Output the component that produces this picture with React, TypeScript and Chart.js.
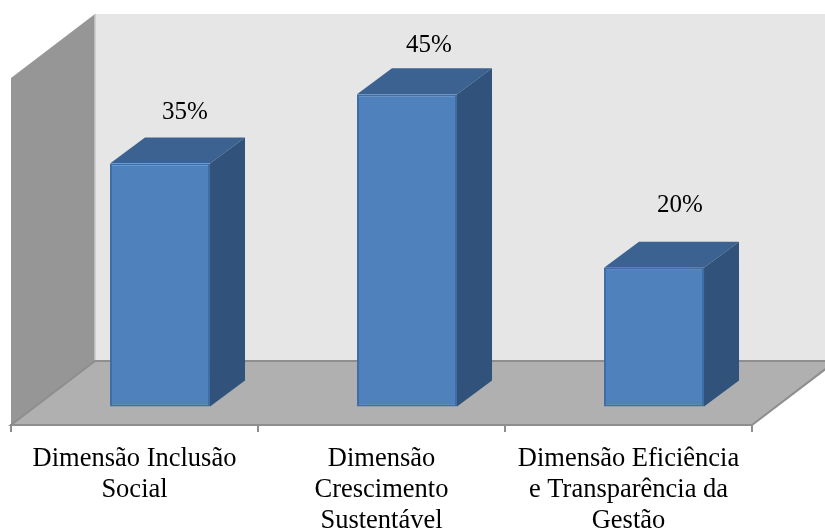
import React, { useEffect, useRef } from "react";
import { Chart, registerables } from "chart.js";

Chart.register(...registerables);

const categories = [
  ["Dimensão Inclusão", "Social"],
  ["Dimensão", "Crescimento", "Sustentável"],
  ["Dimensão Eficiência", "e Transparência da", "Gestão"],
];
const shares = [35, 45, 20];

// Oblique projection of the 3D box: full depth of the floor, where the bars sit, and bar thickness.
const FLOOR_DEPTH = { x: 84, y: -64 };
const BAR_OFFSET = { x: 25.5, y: -18.5 };
const BAR_DEPTH = { x: 35, y: -26 };
const LABEL_LIFT = [51.5, 48.5, 62.5];
const LABEL_SHIFT = [26, 23, 27];

const FONT = '"Liberation Serif", "Times New Roman", serif';

function poly(ctx: CanvasRenderingContext2D, pts: number[][], fill: string, stroke?: string, lw = 1) {
  ctx.beginPath();
  pts.forEach(([x, y], i) => (i ? ctx.lineTo(x, y) : ctx.moveTo(x, y)));
  ctx.closePath();
  ctx.fillStyle = fill;
  ctx.fill();
  if (stroke) {
    ctx.strokeStyle = stroke;
    ctx.lineWidth = lw;
    ctx.stroke();
  }
}

// Back wall, side wall and floor, extruded from the front plane of the plot area.
const roomPlugin = {
  id: "room",
  beforeDraw(chart: any) {
    const { ctx, chartArea: a } = chart;
    const dx = FLOOR_DEPTH.x;
    const dy = FLOOR_DEPTH.y;
    ctx.save();
    poly(ctx, [[a.left + dx, a.top + dy], [a.right + dx, a.top + dy], [a.right + dx, a.bottom + dy], [a.left + dx, a.bottom + dy]], "#e6e6e6");
    poly(ctx, [[a.left, a.top], [a.left + dx, a.top + dy], [a.left + dx, a.bottom + dy], [a.left, a.bottom]], "#969696");
    ctx.strokeStyle = "#c8c8c8";
    ctx.lineWidth = 1.5;
    ctx.beginPath();
    ctx.moveTo(a.left + dx, a.top + dy);
    ctx.lineTo(a.left + dx, a.bottom + dy);
    ctx.stroke();
    poly(ctx, [[a.left, a.bottom], [a.left + dx, a.bottom + dy], [a.right + dx, a.bottom + dy], [a.right, a.bottom]], "#b0b0b0", "#8e8e8e", 2);
    ctx.restore();
  },
};

// Shifts the bars onto the floor and adds their top and side faces.
const boxPlugin = {
  id: "box",
  beforeDatasetDraw(chart: any, args: any) {
    const { ctx } = chart;
    ctx.save();
    ctx.translate(BAR_OFFSET.x, BAR_OFFSET.y);
    const dx = BAR_DEPTH.x;
    const dy = BAR_DEPTH.y;
    args.meta.data.forEach((bar: any) => {
      const { x, y, base, width } = bar.getProps(["x", "y", "base", "width"], true);
      const l = x - width / 2;
      const r = x + width / 2;
      poly(ctx, [[l, y], [l + dx, y + dy], [r + dx, y + dy], [r, y]], "#3b6290");
      poly(ctx, [[r, y], [r + dx, y + dy], [r + dx, base + dy], [r, base]], "#31527a");
    });
  },
  afterDatasetDraw(chart: any) {
    chart.ctx.restore();
  },
  afterDatasetsDraw(chart: any) {
    const { ctx } = chart;
    const meta = chart.getDatasetMeta(0);
    ctx.save();
    ctx.font = `25px ${FONT}`;
    ctx.fillStyle = "#000";
    ctx.textAlign = "center";
    ctx.textBaseline = "middle";
    meta.data.forEach((bar: any, i: number) => {
      const { x, y } = bar.getProps(["x", "y"], true);
      ctx.fillText(
        `${shares[i]}%`,
        x + BAR_OFFSET.x + LABEL_SHIFT[i] - 1,
        y + BAR_OFFSET.y - LABEL_LIFT[i]
      );
    });
    ctx.restore();
  },
};

export default function App() {
  const ref = useRef<HTMLCanvasElement>(null);
  useEffect(() => {
    const chart = new Chart(ref.current!, {
      type: "bar",
      data: {
        labels: categories as any,
        datasets: [
          {
            data: shares,
            backgroundColor: "#4f81bd",
            borderColor: "#3f6ea6",
            borderWidth: 2,
            borderSkipped: false,
            barPercentage: 0.405,
            categoryPercentage: 1,
            clip: false as any,
          },
        ],
      },
      plugins: [roomPlugin, boxPlugin],
      options: {
        responsive: false,
        animation: false,
        layout: { padding: { left: 11, right: 73, top: 78, bottom: 0 } },
        plugins: { legend: { display: false }, tooltip: { enabled: false }, title: { display: false } },
        scales: {
          x: {
            offset: true,
            afterFit(scale: any) {
              scale.height = 103;
            },
            border: { display: true, color: "#8e8e8e", width: 2 },
            grid: {
              display: true,
              offset: true,
              drawOnChartArea: false,
              drawTicks: true,
              tickLength: 7,
              color: "#8e8e8e",
              lineWidth: 2,
            },
            ticks: {
              autoSkip: false,
              maxRotation: 0,
              minRotation: 0,
              padding: 12,
              color: "#000",
              font: { family: FONT, size: 26.5, lineHeight: 1.165 },
            },
          },
          y: { display: false, min: 0, max: 50 },
        },
      },
    });
    return () => chart.destroy();
  }, []);
  return (
    <canvas
      ref={ref}
      width={825}
      height={528}
      style={{ position: "absolute", left: 0, top: 0, display: "block", background: "#fff" }}
    />
  );
}
